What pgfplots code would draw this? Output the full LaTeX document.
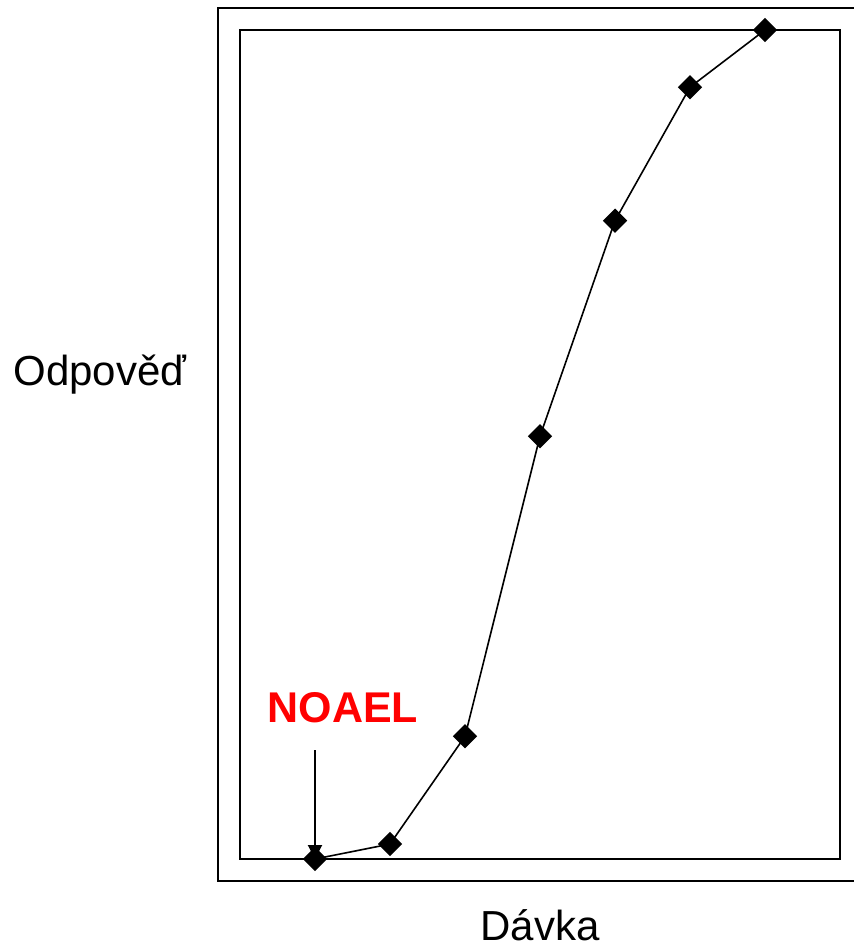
\documentclass[border=0pt]{standalone}
\usepackage{pgfplots}
\pgfplotsset{compat=1.18}
\usepackage{fontspec}
\setmainfont{Liberation Sans}
\usetikzlibrary{arrows.meta}
\begin{document}
\begin{tikzpicture}
\begin{axis}[
  at={(0pt,0pt)}, anchor=south west,
  scale only axis, width=300pt, height=414.5pt,
  xmin=0, xmax=8, ymin=0, ymax=100,
  xtick=\empty, ytick=\empty,
  axis line style={line width=1pt},
  clip=false,
]
\addplot[black, line width=0.8pt, mark=square*, mark size=3.9pt, mark options={rotate=45, fill=black}]
  coordinates {(1,0) (2,1.8) (3,14.8) (4,51.0) (5,77.0) (6,93.1) (7,100)};
\draw[line width=1pt, -{Triangle[width=7pt,length=7pt]}] (axis cs:1,13.1) -- (axis cs:1,0);
\end{axis}
\draw[line width=1pt] (310pt,425.5pt) -- (-11pt,425.5pt) -- (-11pt,-11pt) -- (310pt,-11pt);
\node[font=\fontsize{21}{25}\selectfont] at (-70pt,242pt) {Odpověď};
\node[font=\fontsize{21}{25}\selectfont] at (150pt,-33pt) {Dávka};
\node[font=\fontsize{21.5}{25}\selectfont\bfseries, text=red] at (51.5pt,75.5pt) {NOAEL};
\pgfresetboundingbox
\path[use as bounding box] (-120pt,-44pt) rectangle (306.5pt,429.5pt);
\end{tikzpicture}
\end{document}
